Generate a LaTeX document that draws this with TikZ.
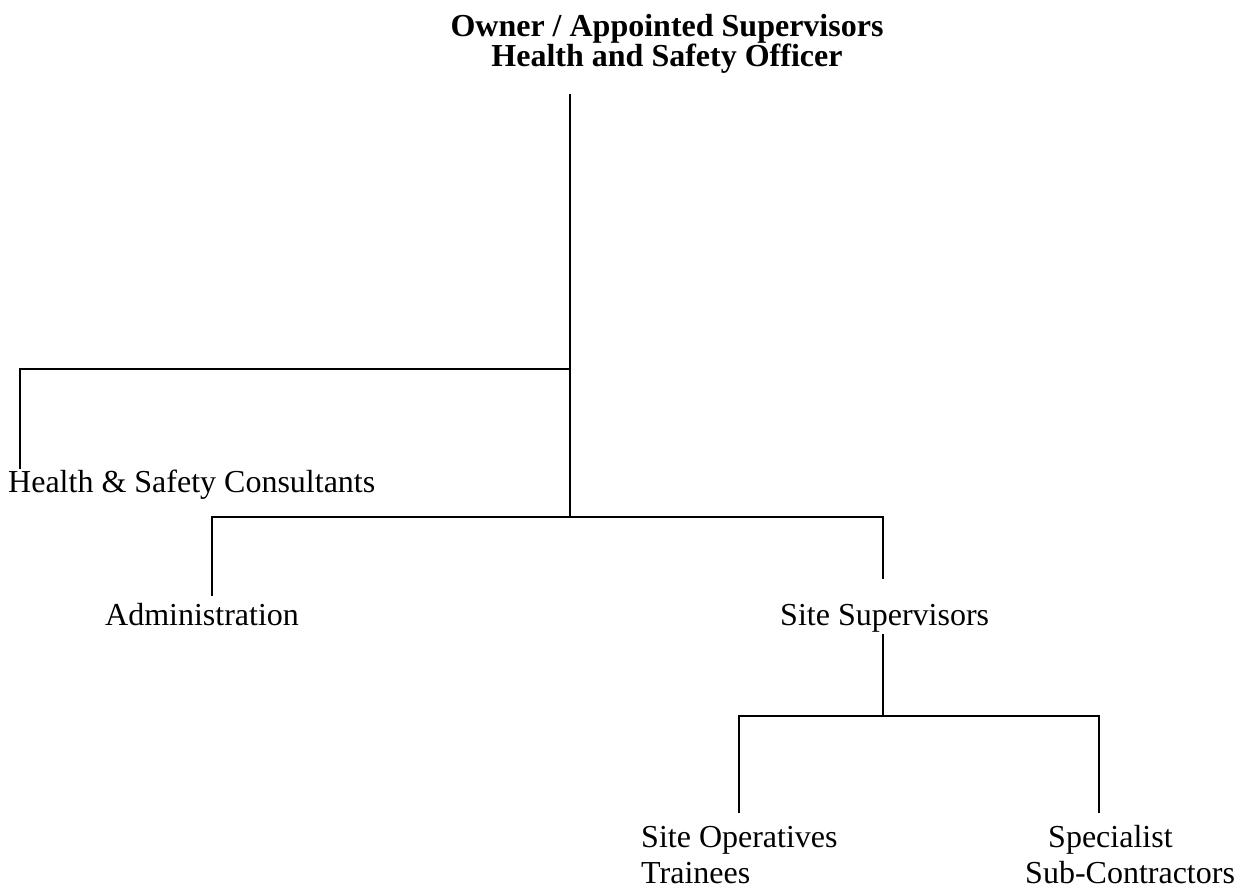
\documentclass[tikz,border=0pt]{standalone}
\usepackage{fontspec}
\setmainfont{Liberation Serif}
\begin{document}
\begin{tikzpicture}[x=1pt,y=-1pt,
  conn/.style={line width=1.8pt, black},
  lbl/.style={inner sep=0pt, anchor=base west, font=\fontsize{32}{36.8}\selectfont},
  ttl/.style={inner sep=0pt, anchor=north, align=center, font=\fontsize{32}{30}\selectfont\bfseries}]
\useasboundingbox (0,0) rectangle (1242,891);
% title
\node[ttl] (owner) at (667,14) {Owner / Appointed Supervisors\\Health and Safety Officer};
% labels
\node[lbl] (hsc) at (8,492) {Health \& Safety Consultants};
\node[lbl] (adm) at (105,625) {Administration};
\node[lbl] (ss)  at (780,625) {Site Supervisors};
\node[lbl] (so)  at (641,847) {Site Operatives};
\node[lbl] (tr)  at (641,883) {Trainees};
\node[lbl] (sp)  at (1048,847) {Specialist};
\node[lbl] (sc)  at (1025,883) {Sub-Contractors};
% junction coordinates
\coordinate (top) at (570,94);
\coordinate (j1) at (570,369);
\coordinate (j2) at (570,517);
\coordinate (hL) at (20,369);
\coordinate (hLe) at (20,469);
\coordinate (aT) at (212,517);
\coordinate (aE) at (212,596);
\coordinate (sT) at (883,517);
\coordinate (sE) at (883,579);
\coordinate (sB) at (883,634);
\coordinate (j3) at (883,716);
\coordinate (oT) at (739,716);
\coordinate (oE) at (739,813);
\coordinate (cT) at (1099,716);
\coordinate (cE) at (1099,813);
% connectors
\draw[conn] (top) -- (j2);
\draw[conn] (j1) -- (hL) -- (hLe);
\draw[conn] (aE) -- (aT) -- (sT) -- (sE);
\draw[conn] (sB) -- (j3);
\draw[conn] (oE) -- (oT) -- (cT) -- (cE);
\end{tikzpicture}
\end{document}
